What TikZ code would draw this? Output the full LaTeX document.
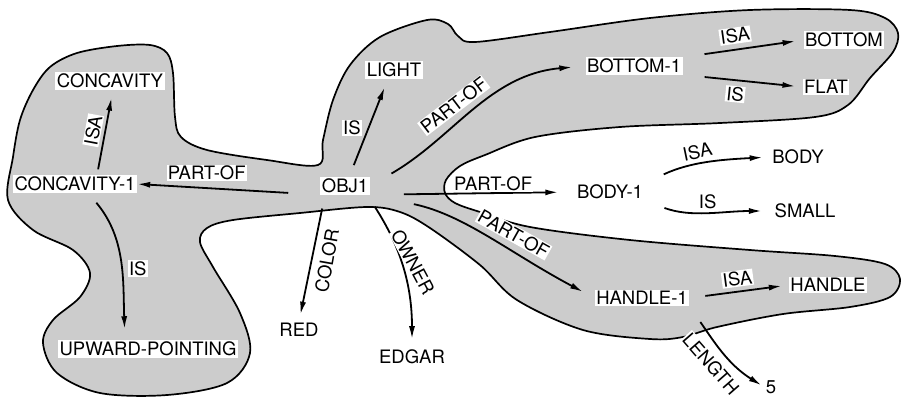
\documentclass[tikz,border=0pt]{standalone}
\usepackage{fontspec}
\setmainfont{TeX Gyre Heros}
\usetikzlibrary{arrows.meta}
\definecolor{blobgray}{gray}{0.8}

\begin{document}
\begin{tikzpicture}[
    x=1pt, y=-1pt,
    font=\fontsize{18.5}{22}\selectfont,
    concept/.style={fill=white, inner sep=1.5pt},
    rel/.style={fill=white, inner sep=1pt},
    link/.style={line width=1.8pt, -{Latex[length=13pt,width=6pt]}}
  ]
    \useasboundingbox (0,0) rectangle (901,402);

    % shaded region
    \draw[line width=1.7pt, fill=blobgray] plot[smooth cycle, tension=0.55] coordinates {
      (8,200) (13,157) (20,120) (33,90) (50,67) (77,53) (117,46) (150,45) (167,53)
      (173,73) (175,117) (181,137) (207,150) (267,160) (318,165) (323,140) (333,100)
      (350,65) (380,37) (427,20) (448,24) (458,36) (475,42) (550,32) (650,18) (750,10)
      (850,10) (885,18) (898,33) (893,52) (870,78) (848,105) (815,117) (720,123)
      (620,127) (535,137) (485,155) (460,166) (446,180) (445,193) (455,203) (480,212)
      (530,227) (630,240) (750,250) (835,256) (885,264) (900,279) (890,297) (850,307)
      (783,314) (717,327) (683,337) (650,339) (583,330) (517,300) (480,265) (430,228)
      (400,212) (367,207) (300,213) (233,220) (207,228) (200,242) (213,267) (240,313)
      (250,353) (227,383) (167,395) (100,393) (57,373) (43,343) (53,320) (80,297)
      (90,273) (73,250) (33,230)};

    \node[concept] (obj1) at (345,186) {OBJ1};
    \node[concept] (concavity1) at (75,184) {CONCAVITY-1};
    \node[concept] (concavity) at (110,81) {CONCAVITY};
    \node[concept] (upward) at (148,349) {UPWARD-POINTING};
    \node[concept] (light) at (394,70) {LIGHT};
    \node[concept] (bottom1) at (634,66) {BOTTOM-1};
    \node[concept] (bottom) at (844,40) {BOTTOM};
    \node[concept] (flat) at (826,87) {FLAT};
    \node[concept] (body1) at (610,192) {BODY-1};
    \node[concept] (body) at (798,157) {BODY};
    \node[concept] (small) at (805,211) {SMALL};
    \node[concept] (handle1) at (642,298) {HANDLE-1};
    \node[concept] (handle) at (828,285) {HANDLE};
    \node[concept] (red) at (299,330) {RED};
    \node[concept] (edgar) at (412,357) {EDGAR};
    \node[concept] (five) at (771,387) {5};

    % relations of OBJ1
    \draw[link, shorten <=32pt] (obj1.south west) -- node[rel, above=6pt, pos=0.62] {PART-OF} (concavity1.east);
    \draw[link, shorten <=13pt, shorten >=9pt] ([xshift=4pt]obj1.north) -- node[rel, left=6pt] {IS} ([xshift=-6pt]light.south);
    \draw[link, shorten <=25pt, shorten >=13pt] (obj1.east) to[out=30, in=185] node[rel, sloped, above=7pt, pos=0.45] {PART-OF} (bottom1.west);
    \draw[link, shorten <=34pt, shorten >=17pt] (obj1.south east) -- node[rel, above, pos=0.6] {PART-OF} (body1.west);
    \draw[link, shorten <=45pt, shorten >=13pt] (obj1.south east) to[out=-12, in=152] node[rel, sloped, above=7pt, pos=0.6] {PART-OF} (handle1.west);
    \draw[link, shorten <=14pt, shorten >=7pt] ([xshift=-20pt]obj1.south) -- node[rel, rotate=80, anchor=north, outer sep=7pt] {COLOR} (red.north);
    \draw[link, shorten <=14pt, shorten >=9pt] ([xshift=22pt]obj1.south) to[out=-57, in=90] node[rel, rotate=-62, anchor=south, outer sep=4pt, pos=0.5] {OWNER} (edgar.north);

    % CONCAVITY-1
    \draw[link, shorten <=6pt, shorten >=8pt] ([xshift=22pt]concavity1.north) -- node[rel, sloped, above=3pt] {ISA} ([xshift=3pt]concavity.south);
    \draw[link, shorten <=13pt, shorten >=11pt] ([xshift=13pt]concavity1.south) to[out=-50, in=92] node[rel, right=6pt, pos=0.55] {IS} ([xshift=-23pt]upward.north);

    % BOTTOM-1
    \draw[link, shorten <=22pt, shorten >=8pt] (bottom1.north east) -- node[rel, sloped, above=5pt, pos=0.45] {ISA} (bottom.west);
    \draw[link, shorten <=22pt, shorten >=7pt] (bottom1.south east) -- node[rel, sloped, below=5pt, pos=0.45] {IS} (flat.west);

    % BODY-1
    \draw[link, shorten <=21pt, shorten >=8pt] (body1.north east) to[out=25, in=183] node[rel, sloped, above=4pt, pos=0.45] {ISA} (body.west);
    \draw[link, shorten <=21pt, shorten >=11pt] (body1.south east) to[out=-20, in=180] node[rel, above=2pt, pos=0.5] {IS} (small.west);

    % HANDLE-1
    \draw[link, shorten <=16pt, shorten >=7pt] (handle1.east) -- node[rel, sloped, above=4pt] {ISA} (handle.west);
    \draw[link, shorten <=19pt, shorten >=3pt] (handle1.south east) to[out=-55, in=148] node[rel, sloped, below=8pt, pos=0.52] {LENGTH} (five.west);
\end{tikzpicture}
\end{document}
